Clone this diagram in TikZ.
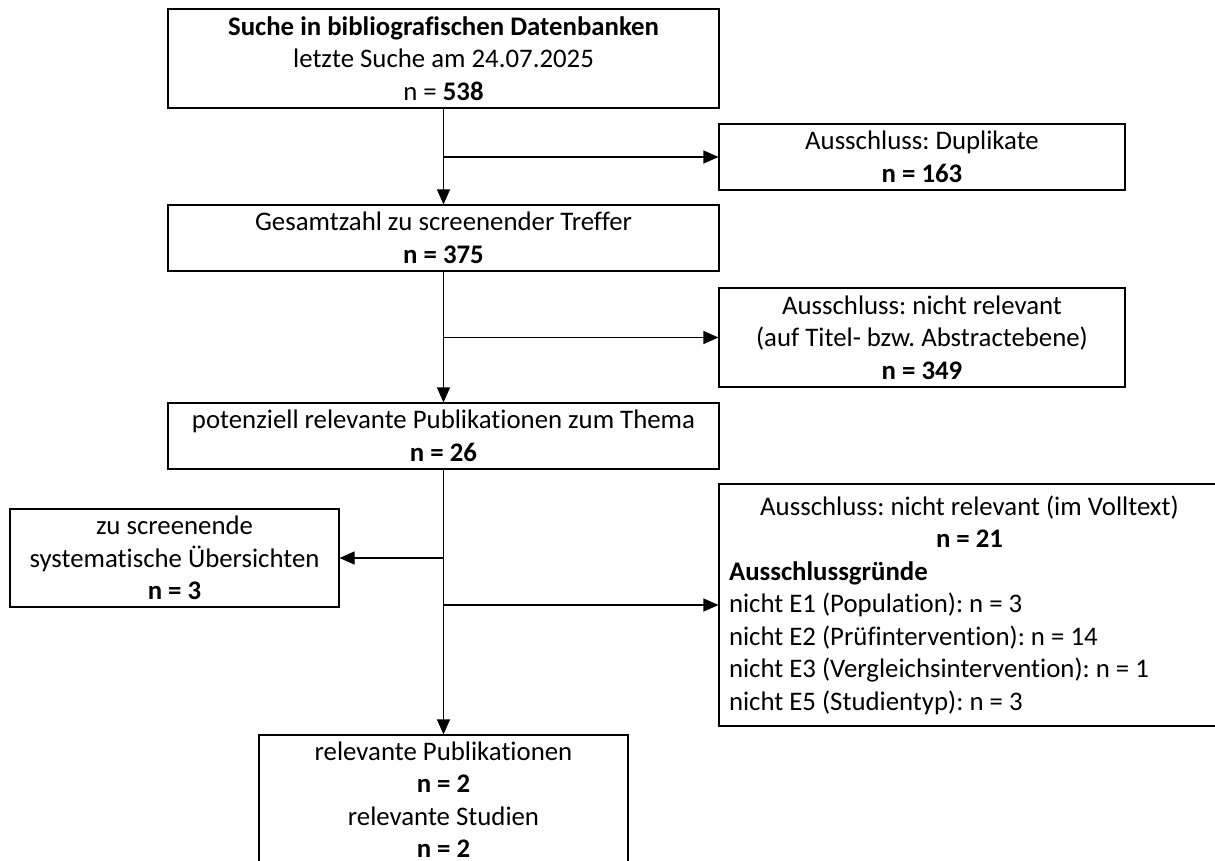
\documentclass[tikz,border=0pt]{standalone}
\usepackage{fontspec}
\setmainfont{Carlito}[Ligatures=NoCommon]
\usepackage{tikz}
\usetikzlibrary{arrows.meta}
\setlength{\parindent}{0pt}
\frenchspacing

\begin{document}
\begin{tikzpicture}[
    x=1pt, y=-1pt,
    box/.style={draw, line width=1.1pt, inner sep=0pt, align=center,
                font=\fontsize{26.8}{32.5}\selectfont},
    mainbox/.style={box, minimum width=551pt},
    sidebox/.style={box, minimum width=406pt},
    arrow/.style={-{Triangle[length=15pt, width=13pt]}, line width=1.1pt},
]
\clip (0,0) rectangle (1215,861);

% ── Search ───────────────────────────────────────────────────────────────
\node[mainbox, minimum height=99pt] (search) at (443.5, 58.5)
    {\textbf{Suche in bibliografischen Datenbanken}\\letzte Suche am 24.07.2025\\n = \textbf{538}};

% ── Duplicates ───────────────────────────────────────────────────────────
\node[sidebox, minimum height=66pt] (dup) at (922, 157)
    {Ausschluss: Duplikate\\\textbf{n = 163}};
\node[mainbox, minimum height=66pt] (total) at (443.5, 238)
    {Gesamtzahl zu screenender Treffer\\\textbf{n = 375}};
\draw[arrow] (search) -- (total);
\draw[arrow] (search.south |- dup.west) -- (dup.west);

% ── Title / abstract screening ───────────────────────────────────────────
\node[sidebox, minimum height=99pt] (title) at (922, 337.5)
    {Ausschluss: nicht relevant\\(auf Titel- bzw. Abstractebene)\\\textbf{n = 349}};
\node[mainbox, minimum height=66pt] (potential) at (443.5, 436)
    {potenziell relevante Publikationen zum Thema\\\textbf{n = 26}};
\draw[arrow] (total) -- (potential);
\draw[arrow] (total.south |- title.west) -- (title.west);

% ── Full text screening ──────────────────────────────────────────────────
\node[box, minimum width=329pt, minimum height=98pt] (reviews) at (174.5, 558)
    {zu screenende\\systematische Übersichten\\\textbf{n = 3}};
\node[box, minimum width=501pt, minimum height=242pt] (fulltext) at (969.5, 605)
    {\parbox{481pt}{{\centering Ausschluss: nicht relevant (im Volltext)\\\textbf{n = 21}\par}
     \raggedright\textbf{Ausschlussgründe}\\
     nicht E1 (Population): n = 3\\
     nicht E2 (Prüfintervention): n = 14\\
     nicht E3 (Vergleichsintervention): n = 1\\
     nicht E5 (Studientyp): n = 3}};
\node[box, minimum width=369pt, minimum height=129pt] (result) at (443.5, 799.5)
    {relevante Publikationen\\\textbf{n = 2}\\relevante Studien\\\textbf{n = 2}};
\draw[arrow] (potential) -- (result);
\draw[arrow] (potential.south |- reviews.east) -- (reviews.east);
\draw[arrow] (potential.south |- fulltext.west) -- (fulltext.west);

\end{tikzpicture}
\end{document}
